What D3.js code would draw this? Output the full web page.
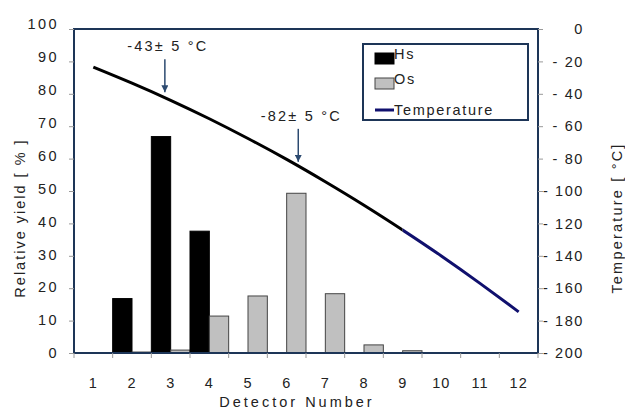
<!DOCTYPE html>
<html>
<head>
<meta charset="utf-8">
<script src="https://cdn.jsdelivr.net/npm/d3@7"></script>
<style>
  body { margin: 0; background: #fff; }
  text { font-family: "Liberation Sans", Arial, sans-serif; fill: #222; }
</style>
</head>
<body>
<div id="chart"></div>
<script>
// data
const detectors = [1, 2, 3, 4, 5, 6, 7, 8, 9, 10, 11, 12];
const series = ["Hs", "Os"];
const hsYield = [0, 16.8, 66.8, 37.6, 0, 0, 0, 0, 0, 0, 0, 0];
const osYield = [0, 0.3, 0.9, 11.4, 17.6, 49.3, 18.3, 2.5, 0.7, 0, 0, 0];
const temperature = [-23.5, -33.4, -44, -55.4, -67.6, -80.5, -94.3, -108.8, -124.1, -140.1, -157, -174.6];
const yieldTicks = [0, 10, 20, 30, 40, 50, 60, 70, 80, 90, 100];
const tempTicks = [0, -20, -40, -60, -80, -100, -120, -140, -160, -180, -200];
const notes = [
  {label: "-43\u00b1 5 \u00b0C", det: 2.85, tip: -39},
  {label: "-82\u00b1 5 \u00b0C", det: 6.3, tip: -82}
];

const W = 625, H = 410;
const margin = {top: 29, right: 87, bottom: 57, left: 74};
const frame = "#1d3557";
const font = "14.5px";

const svg = d3.select("#chart").append("svg")
  .attr("width", W).attr("height", H);

const x = d3.scaleBand().domain(detectors)
  .range([margin.left, W - margin.right]).padding(0);
const xs = d3.scaleBand().domain(series).range([0, x.bandwidth()]).padding(0);
const y = d3.scaleLinear().domain([0, 100]).range([H - margin.bottom, margin.top]);
const yT = d3.scaleLinear().domain([-200, 0]).range([H - margin.bottom, margin.top]);

// continuous x for the line / arrows (detector number -> band centre)
const xc = d3.scaleLinear().domain([1, 12])
  .range([x(1) + x.bandwidth() / 2, x(12) + x.bandwidth() / 2]);

// bars
const rows = detectors.map((d, i) => ({det: d, Hs: hsYield[i], Os: osYield[i]}));
const groups = svg.append("g").selectAll("g").data(rows).join("g")
  .attr("transform", d => `translate(${x(d.det)},0)`);
groups.selectAll("rect")
  .data(d => series.map(k => ({key: k, value: d[k]})))
  .join("rect")
  .attr("x", d => xs(d.key))
  .attr("width", xs.bandwidth())
  .attr("y", d => y(d.value))
  .attr("height", d => y(0) - y(d.value))
  .attr("fill", d => d.key === "Hs" ? "#000" : "#c0c0c0")
  .attr("stroke", d => d.key === "Hs" ? "#000" : "#444")
  .attr("stroke-width", 1);

// temperature line: smooth, black up to detector 9, navy after
const defs = svg.append("defs");
const split = xc(9);
defs.append("clipPath").attr("id", "leftPart").append("rect")
  .attr("x", 0).attr("y", 0).attr("width", split).attr("height", H);
defs.append("clipPath").attr("id", "rightPart").append("rect")
  .attr("x", split).attr("y", 0).attr("width", W - split).attr("height", H);

const pts = detectors.map((d, i) => ({det: d, t: temperature[i]}));
const line = d3.line().x(d => xc(d.det)).y(d => yT(d.t)).curve(d3.curveNatural);
svg.append("path").datum(pts)
  .attr("d", line).attr("fill", "none").attr("stroke", "#000").attr("stroke-width", 3)
  .attr("clip-path", "url(#leftPart)");
svg.append("path").datum(pts)
  .attr("d", line).attr("fill", "none").attr("stroke", "#10106e").attr("stroke-width", 3)
  .attr("clip-path", "url(#rightPart)");

// frame
svg.append("rect")
  .attr("x", margin.left).attr("y", margin.top)
  .attr("width", W - margin.left - margin.right)
  .attr("height", H - margin.top - margin.bottom)
  .attr("fill", "none").attr("stroke", frame).attr("stroke-width", 2);

// left axis
const yAxis = svg.append("g")
  .attr("transform", `translate(${margin.left},0)`)
  .call(d3.axisLeft(y).tickValues(yieldTicks).tickSize(5).tickPadding(10));
yAxis.select(".domain").remove();
yAxis.selectAll("line").attr("stroke", "#999");
yAxis.selectAll("text")
  .attr("dy", d => (0.32 - d / 100 * 0.33) + "em")
  .style("font-size", font).style("letter-spacing", "2.4px").attr("fill", "#222");

// right axis
const rAxis = svg.append("g")
  .attr("transform", `translate(${W - margin.right},0)`)
  .call(d3.axisRight(yT).tickValues(tempTicks).tickSize(5).tickPadding(6)
    .tickFormat(d => d === 0 ? "0" : "- " + Math.abs(d)));
rAxis.select(".domain").remove();
rAxis.selectAll("line").attr("stroke", "#999");
rAxis.selectAll("text").attr("text-anchor", "end").attr("x", 46)
  .style("font-size", font).style("letter-spacing", "1.6px").attr("fill", "#222");

// bottom axis: ticks on band edges, labels on band centres
const xAxis = svg.append("g").attr("transform", `translate(0,${H - margin.bottom})`);
xAxis.selectAll("line").data(detectors.concat([13])).join("line")
  .attr("x1", d => d === 13 ? x(12) + x.bandwidth() : x(d))
  .attr("x2", d => d === 13 ? x(12) + x.bandwidth() : x(d))
  .attr("y1", 0).attr("y2", 5).attr("stroke", "#999");
xAxis.selectAll("text").data(detectors).join("text")
  .attr("x", d => x(d) + x.bandwidth() / 2)
  .attr("y", 35)
  .attr("text-anchor", "middle")
  .style("font-size", font).style("letter-spacing", "1px")
  .text(d => d);

// axis titles
svg.append("text")
  .attr("transform", "translate(297,407)")
  .attr("text-anchor", "middle")
  .style("font-size", font).style("letter-spacing", "3px")
  .text("Detector  Number");
svg.append("text")
  .attr("transform", "translate(25,218) rotate(-90)")
  .attr("text-anchor", "middle")
  .style("font-size", font).style("letter-spacing", "2px")
  .text("Relative yield  [ % ]");
svg.append("text")
  .attr("transform", "translate(622,218) rotate(-90)")
  .attr("text-anchor", "middle")
  .style("font-size", font).style("letter-spacing", "2.2px")
  .text("Temperature [ \u00b0C]");

// annotations with arrows
const arrowCol = "#2c4a70";
defs.append("marker")
  .attr("id", "arr").attr("viewBox", "0 0 10 10")
  .attr("refX", 10).attr("refY", 5)
  .attr("markerWidth", 7).attr("markerHeight", 7)
  .attr("markerUnits", "userSpaceOnUse")
  .attr("orient", "auto")
  .append("path").attr("d", "M0,0 L10,5 L0,10 Z").attr("fill", arrowCol);
notes.forEach(n => {
  const ax = xc(n.det), ay = yT(n.tip);
  svg.append("line")
    .attr("x1", ax).attr("x2", ax)
    .attr("y1", ay - 33).attr("y2", ay)
    .attr("stroke", arrowCol).attr("stroke-width", 1.5)
    .attr("marker-end", "url(#arr)");
  svg.append("text")
    .attr("x", ax + 3).attr("y", ay - 41)
    .attr("text-anchor", "middle")
    .style("font-size", font).style("letter-spacing", "2.2px")
    .text(n.label);
});

// legend
const lg = svg.append("g").attr("transform", "translate(363,44)");
lg.append("rect").attr("width", 165).attr("height", 76)
  .attr("fill", "#fff").attr("stroke", frame).attr("stroke-width", 2);
const items = [
  {name: "Hs", type: "rect", fill: "#000", stroke: "#000"},
  {name: "Os", type: "rect", fill: "#c0c0c0", stroke: "#444"},
  {name: "Temperature", type: "line", stroke: "#10106e"}
];
items.forEach((it, i) => {
  const yy = 13 + i * 25;
  if (it.type === "rect") {
    lg.append("rect").attr("x", 12).attr("y", yy - 4).attr("width", 19).attr("height", 11)
      .attr("fill", it.fill).attr("stroke", it.stroke);
  } else {
    lg.append("line").attr("x1", 12).attr("x2", 31).attr("y1", yy + 3).attr("y2", yy + 3)
      .attr("stroke", it.stroke).attr("stroke-width", 3);
  }
  lg.append("text").attr("x", 31).attr("y", yy + 2 + (it.type === "line" ? 6 : 0))
    .style("font-size", font).style("letter-spacing", "1.7px")
    .text(it.name);
});
</script>
</body>
</html>
